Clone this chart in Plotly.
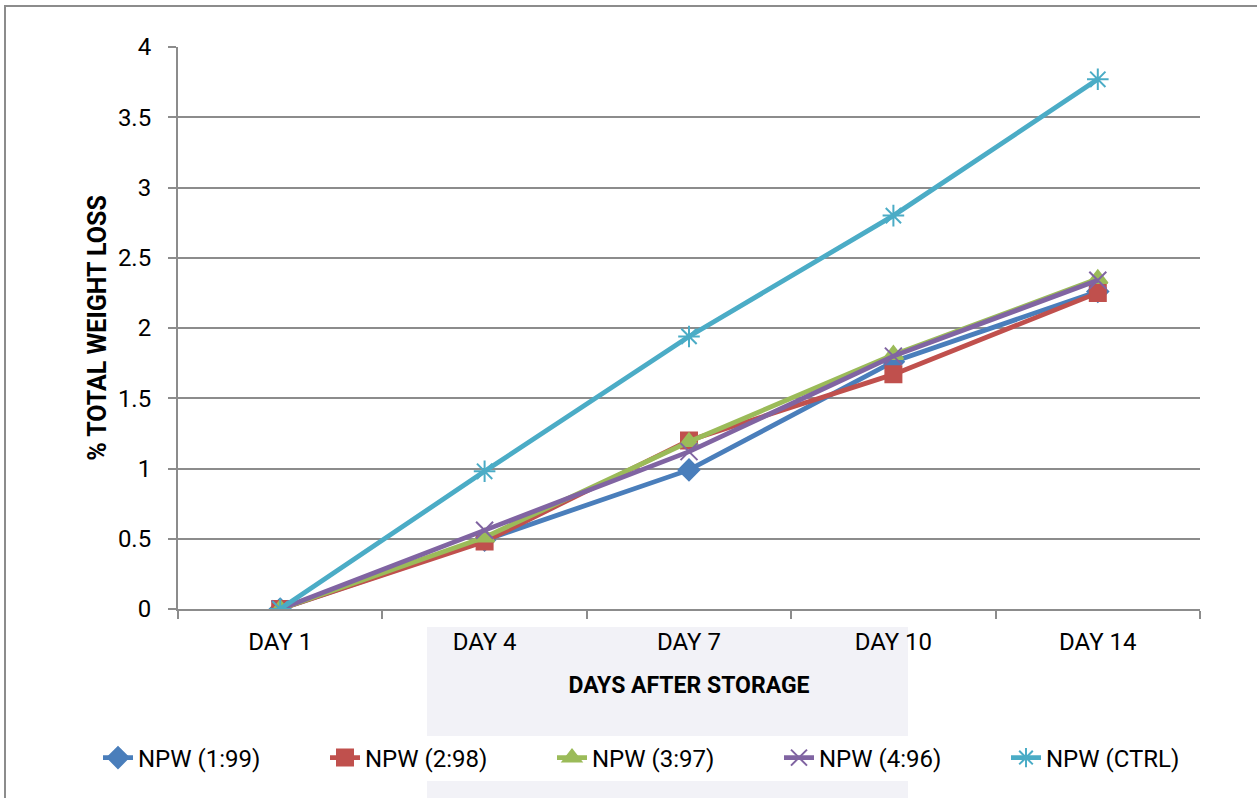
import plotly.graph_objects as go

# data
days = ["DAY 1", "DAY 4", "DAY 7", "DAY 10", "DAY 14"]
npw_1_99 = [0, 0.49, 0.99, 1.76, 2.26]
npw_2_98 = [0, 0.48, 1.20, 1.67, 2.25]
npw_3_97 = [0, 0.51, 1.19, 1.81, 2.35]
npw_4_96 = [0, 0.56, 1.12, 1.80, 2.34]
npw_ctrl = [0, 0.98, 1.94, 2.80, 3.77]
y_ticks = [0, 0.5, 1, 1.5, 2, 2.5, 3, 3.5, 4]

FONT = "Roboto, 'Open Sans', sans-serif"
W, H = 1257, 798
L, R, T, B = 178, 57, 47, 189

series = [
    ("NPW (1:99)", npw_1_99, "#4A7EBB", "diamond", 16),
    ("NPW (2:98)", npw_2_98, "#C0504D", "square", 16),
    ("NPW (3:97)", npw_3_97, "#9BBB59", "triangle-up", 17),
    ("NPW (4:96)", npw_4_96, "#8064A2", "x-thin-open", 17),
    ("NPW (CTRL)", npw_ctrl, "#4BACC6", "asterisk-open", 18),
]

fig = go.Figure()
for name, vals, color, symbol, size in series:
    fig.add_trace(go.Scatter(
        x=days, y=vals, name=name, mode="lines+markers",
        line=dict(color=color, width=4.8),
        marker=dict(symbol=symbol, size=size, color=color,
                    line=dict(color=color, width=2)),
    ))

# paper coordinates (from reference pixels) for decorations outside the plot
pw, ph = W - L - R, H - T - B
def px_x(x):
    return (x - L) / pw
def px_y(y):
    return (H - B - y) / ph

fig.add_shape(type="rect", xref="paper", yref="paper", layer="below",
              x0=px_x(427), x1=px_x(908), y0=px_y(840), y1=px_y(627),
              fillcolor="#f2f2f7", line=dict(width=0))
fig.add_shape(type="rect", xref="paper", yref="paper", layer="below",
              x0=px_x(5), x1=px_x(1300), y0=px_y(840), y1=px_y(6),
              fillcolor="rgba(0,0,0,0)", line=dict(color="#8c8c8c", width=2))

axis_col = "#8c8c8c"
fig.update_layout(
    width=W, height=H,
    margin=dict(l=L, r=R, t=T, b=B),
    paper_bgcolor="white", plot_bgcolor="white",
    font=dict(family=FONT, size=24, color="black"),
    showlegend=True,
    legend=dict(orientation="h", x=px_x(98), xanchor="left", y=px_y(758), yanchor="middle",
                font=dict(size=24), entrywidth=182, entrywidthmode="pixels",
                tracegroupgap=0),
    xaxis=dict(
        type="category", showgrid=False, showline=True, linecolor=axis_col, linewidth=2,
        ticks="outside", tickson="boundaries", ticklen=8, tickcolor=axis_col, tickwidth=1.5,
        tickfont=dict(size=24), range=[-0.5, 4.5], ticklabelstandoff=10,
        title=dict(text="<b>DAYS AFTER STORAGE</b>", font=dict(size=23), standoff=22),
    ),
    yaxis=dict(
        range=[0, 4], tickvals=y_ticks, ticktext=[f"{v:g}" for v in y_ticks],
        showgrid=True, gridcolor=axis_col, gridwidth=2, zeroline=False,
        showline=True, linecolor=axis_col, linewidth=2,
        ticks="outside", ticklen=8, tickcolor=axis_col, tickwidth=1.5,
        tickfont=dict(size=24), ticklabelstandoff=12,
        title=dict(text="<b>% TOTAL WEIGHT LOSS</b>", font=dict(size=25), standoff=4),
    ),
)

# drop the default 8px page margin so the figure fills the window exactly
fig.write_html("out.html", config={"displayModeBar": False},
               post_script="document.body.style.margin='0px';")
